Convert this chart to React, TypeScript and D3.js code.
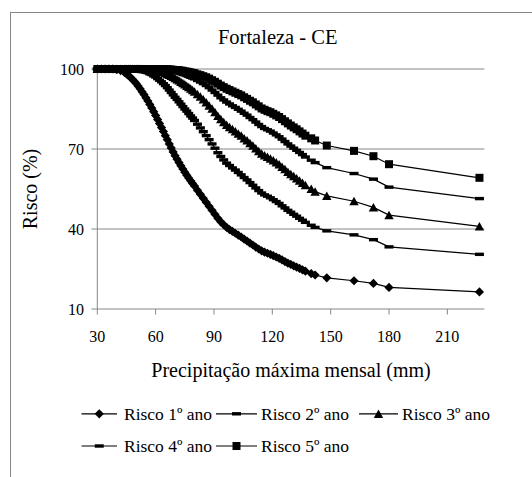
import React from "react";
import * as d3 from "d3";

// Precipitação máxima mensal (mm) — shared abscissa for all risk curves
const precip = [
  30, 32, 34, 36, 38, 40, 42, 44,
  45, 46, 47, 48, 49, 50, 51, 52, 53, 54, 55, 56, 57, 58, 59, 60, 61, 62, 63, 64,
  65, 66, 67, 68, 69, 70, 71, 72, 73, 74, 75, 76, 77, 78, 79, 80,
  81.5, 83, 84.5, 86, 87.5, 89, 90.5, 92, 93.5, 95, 96.5, 98, 99.5, 101, 102.5, 104,
  105.5, 107, 108.5, 110, 111.5, 113, 114.5, 116, 117.5, 119, 120.5, 122, 123.5, 125,
  126.5, 128, 129.5, 131, 132.5, 134, 135.5, 137,
  140, 142, 148, 162, 172, 180, 226.5,
];

const risco1 = [
  100, 100, 100, 100, 100, 99.8, 99.4, 98.7,
  98.2, 97.6, 96.9, 96.2, 95.4, 94.6, 93.6, 92.6, 91.5, 90.4,
  89.2, 88.0, 86.7, 85.4, 84.0, 82.6, 81.1, 79.6, 78.1, 76.6,
  75.0, 73.5, 71.9, 70.4, 68.9, 67.5, 66.2, 64.9, 63.7, 62.5,
  61.3, 60.2, 59.1, 58.1, 57.1, 56.1,
  54.5, 53.0, 51.5, 50.0, 48.5, 47.0, 45.5, 44.0, 42.7, 41.6,
  40.6, 39.8, 39.1, 38.4, 37.7, 37.0, 36.2, 35.5, 34.7, 34.0,
  33.2, 32.5, 31.8, 31.3, 30.9, 30.5, 30.0, 29.5, 29.0, 28.4,
  27.8, 27.2, 26.7, 26.2, 25.7, 25.2, 24.7, 24.2,
  23.3, 22.75, 21.7, 20.6, 19.6, 18.1, 16.4,
];

const risco2 = [
  100, 100, 100, 100, 100, 100, 100, 100,
  100, 99.9, 99.9, 99.9, 99.8, 99.7, 99.6, 99.5, 99.3, 99.1,
  98.8, 98.6, 98.2, 97.9, 97.4, 97.0, 96.4, 95.8, 95.2, 94.5,
  93.8, 93.0, 92.1, 91.2, 90.3, 89.4, 88.6, 87.7, 86.8, 85.9,
  85.0, 84.2, 83.3, 82.4, 81.6, 80.7,
  79.3, 77.9, 76.5, 75.0, 73.5, 71.9, 70.3, 68.6, 67.2, 65.9,
  64.7, 63.8, 62.9, 62.1, 61.2, 60.3, 59.3, 58.4, 57.4, 56.4,
  55.4, 54.4, 53.5, 52.8, 52.3, 51.7, 51.0, 50.3, 49.6, 48.7,
  47.9, 47.0, 46.3, 45.5, 44.8, 44.0, 43.3, 42.5,
  41.4, 40.6, 39.3, 37.8, 36.0, 33.3, 30.5,
];

const risco3 = [
  100, 100, 100, 100, 100, 100, 100, 100,
  100, 100, 100, 100, 100, 100, 100, 100, 99.9, 99.9,
  99.9, 99.8, 99.8, 99.7, 99.6, 99.5, 99.3, 99.2, 99.0, 98.7,
  98.4, 98.1, 97.8, 97.4, 97.0, 96.6, 96.1, 95.7, 95.2, 94.7,
  94.2, 93.7, 93.2, 92.6, 92.1, 91.5,
  90.6, 89.6, 88.6, 87.5, 86.3, 85.1, 83.8, 82.4, 81.2, 80.1,
  79.0, 78.2, 77.4, 76.6, 75.8, 75.0, 74.0, 73.2, 72.2, 71.3,
  70.2, 69.2, 68.3, 67.6, 67.0, 66.4, 65.7, 65.0, 64.2, 63.3,
  62.4, 61.4, 60.6, 59.8, 59.0, 58.1, 57.3, 56.4,
  55.0, 54.0, 52.4, 50.4, 48.1, 45.2, 41.0,
];

const risco4 = [
  100, 100, 100, 100, 100, 100, 100, 100,
  100, 100, 100, 100, 100, 100, 100, 100, 100, 100,
  100, 100, 100, 100, 99.9, 99.9, 99.9, 99.8, 99.8, 99.7,
  99.6, 99.5, 99.4, 99.2, 99.1, 98.9, 98.7, 98.5, 98.3, 98.0,
  97.8, 97.5, 97.2, 96.9, 96.6, 96.3,
  95.7, 95.1, 94.5, 93.8, 93.0, 92.1, 91.2, 90.2, 89.2, 88.4,
  87.6, 86.9, 86.2, 85.6, 84.9, 84.2, 83.4, 82.7, 81.8, 81.0,
  80.1, 79.2, 78.4, 77.7, 77.2, 76.7, 76.0, 75.3, 74.6, 73.7,
  72.8, 71.9, 71.1, 70.3, 69.5, 68.7, 67.9, 67.0,
  65.8, 64.9, 63.0, 60.8, 58.7, 55.7, 51.4,
];

const risco5 = [
  100, 100, 100, 100, 100, 100, 100, 100,
  100, 100, 100, 100, 100, 100, 100, 100, 100, 100,
  100, 100, 100, 100, 100, 100, 100, 100, 99.9, 99.9,
  99.9, 99.9, 99.8, 99.8, 99.7, 99.6, 99.6, 99.5, 99.4, 99.3,
  99.1, 99.0, 98.9, 98.7, 98.5, 98.4,
  98.0, 97.7, 97.3, 96.9, 96.4, 95.8, 95.2, 94.5, 93.8, 93.2,
  92.6, 92.1, 91.6, 91.1, 90.6, 90.1, 89.4, 88.8, 88.1, 87.5,
  86.7, 86.0, 85.2, 84.7, 84.2, 83.8, 83.2, 82.6, 82.0, 81.2,
  80.4, 79.6, 78.8, 78.1, 77.4, 76.6, 75.8, 75.0,
  74.0, 73.2, 71.3, 69.3, 67.3, 64.3, 59.2,
];

const seriesNames = ["Risco 1º ano", "Risco 2º ano", "Risco 3º ano", "Risco 4º ano", "Risco 5º ano"];
const seriesValues = [risco1, risco2, risco3, risco4, risco5];
const seriesShapes = ["diamond", "dash", "triangle", "dash", "square"];

const xTicks = [30, 60, 90, 120, 150, 180, 210];
const yTicks = [10, 40, 70, 100];
const yGrid = [40, 70, 100];

const FONT = "Liberation Serif";
const GRAY = "#868686";

function Marker({ shape, x, y }: { shape: string; x: number; y: number }) {
  if (shape === "diamond") {
    const r = 4.6;
    return <path d={`M${x},${y - r}L${x + r},${y}L${x},${y + r}L${x - r},${y}Z`} fill="#000" />;
  }
  if (shape === "square") {
    const h = 4;
    return <rect x={x - h} y={y - h} width={2 * h} height={2 * h} fill="#000" />;
  }
  if (shape === "triangle") {
    return (
      <path d={`M${x},${y - 4.4}L${x + 4.7},${y + 4.1}L${x - 4.7},${y + 4.1}Z`} fill="#000" />
    );
  }
  // dash
  return <rect x={x - 4.5} y={y - 1.7} width={9} height={3.4} fill="#000" />;
}

export default function App() {
  const x = d3.scaleLinear().domain([30, 229]).range([97.3, 484.3]);
  const y = d3.scaleLinear().domain([10, 100]).range([309, 69]);

  const line = d3
    .line<[number, number]>()
    .x((d) => x(d[0]))
    .y((d) => y(d[1]));

  const legendItems = [
    { row: 0, x1: 81.5, x2: 117, tx: 124 },
    { row: 0, x1: 216, x2: 257, tx: 261 },
    { row: 0, x1: 359, x2: 398, tx: 402 },
    { row: 1, x1: 81.5, x2: 117, tx: 124 },
    { row: 1, x1: 216, x2: 257, tx: 261 },
  ];
  const legendRows = [413.8, 446];
  const textStyle = { fontFamily: FONT };

  return (
    <svg
      width={532}
      height={477}
      style={{ position: "absolute", left: 0, top: 0, background: "#fff" }}
    >
      <rect x={0} y={0} width={532} height={477} fill="#fff" />
      {/* chart frame */}
      <rect x={10.5} y={12.5} width={560} height={520} fill="none" stroke={GRAY} strokeWidth={1} />

      <text x={277.7} y={44} textAnchor="middle" fontSize={20.5} style={textStyle}>
        Fortaleza - CE
      </text>

      {/* gridlines */}
      {yGrid.map((v) => (
        <line key={v} x1={x(30)} x2={x(229)} y1={y(v)} y2={y(v)} stroke={GRAY} strokeWidth={1} />
      ))}

      {/* axes */}
      <line x1={x(30)} x2={x(30)} y1={y(100)} y2={y(10)} stroke={GRAY} strokeWidth={1} />
      <line x1={x(30)} x2={x(229)} y1={y(10)} y2={y(10)} stroke={GRAY} strokeWidth={1} />
      {yTicks.map((v) => (
        <g key={v}>
          <line x1={x(30) - 6} x2={x(30)} y1={y(v)} y2={y(v)} stroke={GRAY} />
          <text x={84} y={y(v) + 5.5} textAnchor="end" fontSize={16} style={textStyle}>
            {v}
          </text>
        </g>
      ))}
      {xTicks.map((v) => (
        <g key={v}>
          <line x1={x(v)} x2={x(v)} y1={y(10)} y2={y(10) + 5.5} stroke={GRAY} />
          <text x={x(v)} y={342} textAnchor="middle" fontSize={16} style={textStyle}>
            {v}
          </text>
        </g>
      ))}

      <text x={291} y={377} textAnchor="middle" fontSize={20} style={textStyle}>
        Precipitação máxima mensal (mm)
      </text>
      <text
        transform={`translate(37,189) rotate(-90)`}
        textAnchor="middle"
        fontSize={20}
        style={textStyle}
      >
        Risco (%)
      </text>

      {/* risk curves */}
      {seriesValues.map((vals, si) => {
        const pts: [number, number][] = precip.map((p, i) => [p, vals[i]]);
        return (
          <g key={si}>
            <path d={line(pts) || ""} fill="none" stroke="#000" strokeWidth={1.2} />
            {pts.map((d, i) => (
              <Marker key={i} shape={seriesShapes[si]} x={x(d[0])} y={y(d[1])} />
            ))}
          </g>
        );
      })}

      {/* legend */}
      {legendItems.map((it, i) => {
        const cy = legendRows[it.row];
        return (
          <g key={i}>
            <line x1={it.x1} x2={it.x2} y1={cy} y2={cy} stroke="#000" strokeWidth={1.2} />
            <Marker shape={seriesShapes[i]} x={(it.x1 + it.x2) / 2} y={cy} />
            <text x={it.tx} y={cy + 6} fontSize={17.5} style={textStyle}>
              {seriesNames[i]}
            </text>
          </g>
        );
      })}
    </svg>
  );
}
